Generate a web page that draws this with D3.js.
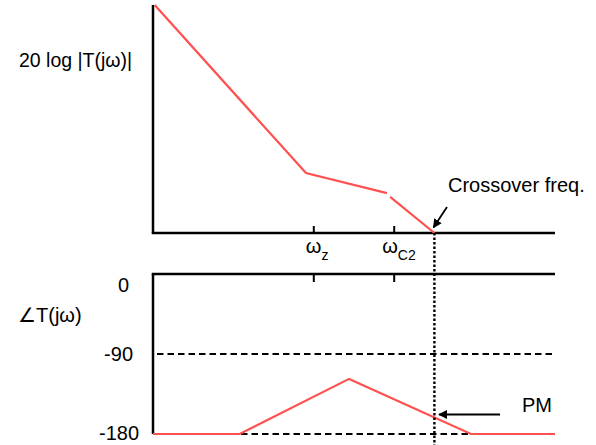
<!DOCTYPE html>
<html><head><meta charset="utf-8">
<script src="https://cdn.jsdelivr.net/npm/d3@7"></script>
<style>body{margin:0;background:#fff}svg{display:block}text{font-family:"Liberation Sans",Arial,sans-serif;fill:#000}</style>
</head><body>
<script>
// frequency positions (log scale, arbitrary units)
const omegaZ = 100, omegaC2 = 1000, omegaCross = 3162;
// magnitude asymptote (dB), drawn in two pieces with a small gap
const magSeg1 = [{w:1.05,db:100},{w:80,db:26.3},{w:813,db:17.5}];
const magSeg2 = [{w:890,db:15.8},{w:3162,db:0}];
// phase asymptote (deg)
const phaseW =   [1, 12, 275, 9000, 100000];
const phaseDeg = [-180, -180, -118, -180, -180];
const phaseTicks = [0, -90, -180];
const tickLabels = ["0","-90","-180"];

const W=596,H=445;
const svg=d3.select("body").append("svg").attr("width",W).attr("height",H);
const x=d3.scaleLog().domain([1,1e5]).range([153,555]);
const yMag=d3.scaleLinear().domain([0,100]).range([233,5]);
const yPh=d3.scaleLinear().domain([-180,0]).range([434,274]);
const red="#ff5050";
const FS=20;

// top panel axes
svg.append("line").attr("x1",153).attr("x2",153).attr("y1",yMag(100)).attr("y2",yMag(0)).attr("stroke","#000").attr("stroke-width",2.5);
svg.append("line").attr("x1",151.75).attr("x2",555).attr("y1",yMag(0)).attr("y2",yMag(0)).attr("stroke","#000").attr("stroke-width",2.5);
[omegaZ,omegaC2].forEach(w=>{
  svg.append("line").attr("x1",x(w)).attr("x2",x(w)).attr("y1",yMag(0)).attr("y2",yMag(0)-7).attr("stroke","#000").attr("stroke-width",2);
});
const magLine=d3.line().x(d=>x(d.w)).y(d=>yMag(d.db));
[magSeg1,magSeg2].forEach(s=>svg.append("path").attr("d",magLine(s)).attr("fill","none").attr("stroke",red).attr("stroke-width",2.2));

// labels top
svg.append("text").attr("x",19).attr("y",67).attr("font-size",19.5).text("20 log |T(jω)|");
function sub(x0,main,s){
  const t=svg.append("text").attr("x",x0).attr("y",253).attr("font-size",FS);
  t.append("tspan").text(main);
  t.append("tspan").attr("font-size",14).attr("dy",7).text(s);
}
sub(x(omegaZ)-8,"ω","z");
sub(x(omegaC2)-12,"ω","C2");
svg.append("text").attr("x",448).attr("y",192).attr("font-size",FS).text("Crossover freq.");

// arrow defs
const defs=svg.append("defs");
defs.append("marker").attr("id","ah").attr("viewBox","0 0 10 10").attr("refX",9).attr("refY",5)
 .attr("markerWidth",5).attr("markerHeight",5).attr("orient","auto").attr("markerUnits","strokeWidth")
 .append("path").attr("d","M0,0L10,5L0,10z").attr("fill","#000");
svg.append("line").attr("x1",447).attr("y1",207).attr("x2",433.5).attr("y2",227.5).attr("stroke","#000").attr("stroke-width",1.8).attr("marker-end","url(#ah)");

// bottom panel
svg.append("line").attr("x1",153).attr("x2",153).attr("y1",yPh(0)).attr("y2",yPh(-180)).attr("stroke","#000").attr("stroke-width",2.5);
svg.append("line").attr("x1",151.75).attr("x2",555).attr("y1",yPh(0)).attr("y2",yPh(0)).attr("stroke","#000").attr("stroke-width",2.5);
[omegaZ,omegaC2].forEach(w=>{
  svg.append("line").attr("x1",x(w)).attr("x2",x(w)).attr("y1",yPh(0)).attr("y2",yPh(0)+8).attr("stroke","#000").attr("stroke-width",2);
});
[-90,-180].forEach(v=>{
  svg.append("line").attr("x1",157).attr("x2",555).attr("y1",yPh(v)).attr("y2",yPh(v)).attr("stroke","#000").attr("stroke-width",2).attr("stroke-dasharray","6.5,4");
});
const labRight=[129,133,139], labDy=[18,7,6];
phaseTicks.forEach((v,i)=>{
  svg.append("text").attr("x",labRight[i]).attr("y",yPh(v)+labDy[i]).attr("font-size",FS).attr("text-anchor","end").text(tickLabels[i]);
});
svg.append("text").attr("x",18).attr("y",322).attr("font-size",FS).text("∠T(jω)");
const phData=phaseW.map((w,i)=>({w,d:phaseDeg[i]}));
svg.append("path").attr("d",d3.line().x(d=>x(d.w)).y(d=>yPh(d.d))(phData)).attr("fill","none").attr("stroke",red).attr("stroke-width",2.2);

// crossover dotted line
svg.append("line").attr("x1",x(omegaCross)).attr("x2",x(omegaCross)).attr("y1",yMag(0)).attr("y2",H).attr("stroke","#000").attr("stroke-width",2.4).attr("stroke-dasharray","2.5,2");
// PM arrow
svg.append("line").attr("x1",500).attr("y1",414.5).attr("x2",439).attr("y2",414.5).attr("stroke","#000").attr("stroke-width",1.8).attr("marker-end","url(#ah)");
svg.append("text").attr("x",522).attr("y",412).attr("font-size",FS).text("PM");
</script>
</body></html>
